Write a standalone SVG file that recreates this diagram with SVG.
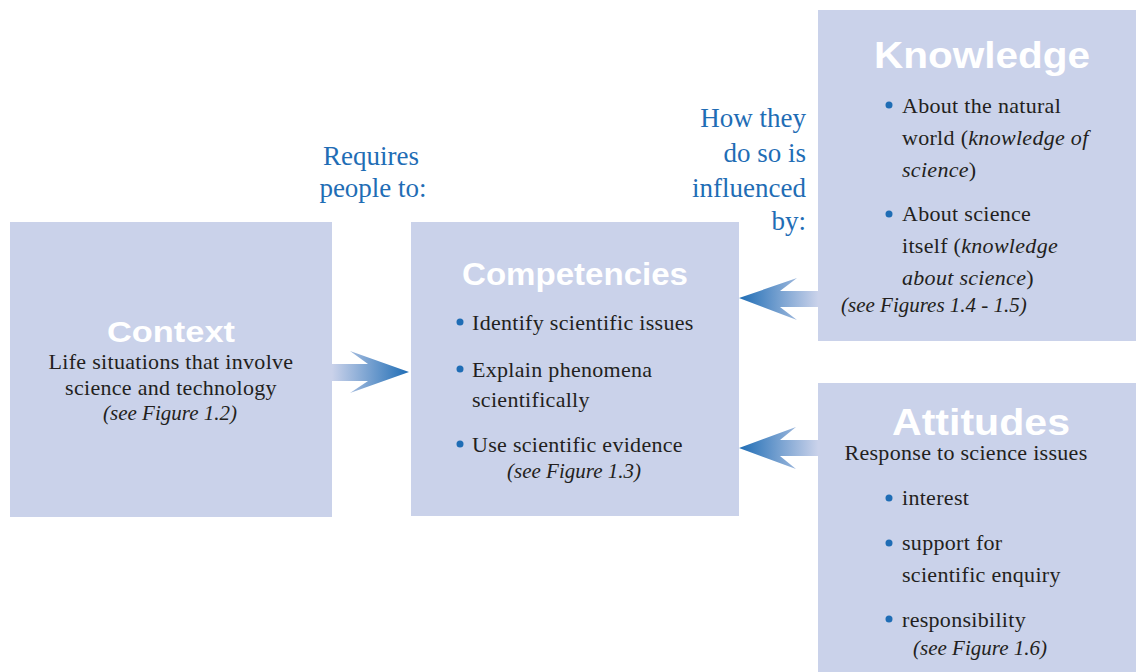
<svg xmlns="http://www.w3.org/2000/svg" width="1136" height="672" viewBox="0 0 1136 672">
<style>
.box{fill:#cad2ea}
.title{font-family:"Liberation Sans",Arial,sans-serif;font-weight:bold;fill:#ffffff}
.body{font-family:"Liberation Serif","Times New Roman",serif;font-size:22px;fill:#231f20;letter-spacing:0.3px}
.it{font-style:italic}
.ref{font-family:"Liberation Serif","Times New Roman",serif;font-size:21px;font-style:italic;fill:#231f20}
.blue{font-family:"Liberation Serif","Times New Roman",serif;font-size:27px;fill:#1f6db5}
.dot{fill:#1f6db5}
.mid{text-anchor:middle}
.end{text-anchor:end}
</style>
<defs>
<linearGradient id="gr" x1="0" y1="0" x2="1" y2="0">
<stop offset="0" stop-color="#cad2ea"/>
<stop offset="1" stop-color="#1f6db5"/>
</linearGradient>
<linearGradient id="gl" x1="1" y1="0" x2="0" y2="0">
<stop offset="0" stop-color="#cad2ea"/>
<stop offset="1" stop-color="#1f6db5"/>
</linearGradient>
</defs>
<rect width="1136" height="672" fill="#ffffff"/>

<g id="connectors">
<polygon fill="url(#gr)" points="332,364 368,364 350,351 409,372 350,393 368,381 332,381"/>
<polygon fill="url(#gl)" points="818,291 780,291 797,278 739,298 797,320 780,307 818,307"/>
<polygon fill="url(#gl)" points="818,440 780,440 796,427 739,448 796,469 780,456 818,456"/>
</g>

<g id="label-requires">
<text class="blue mid" x="371" y="165">Requires</text>
<text class="blue mid" x="373" y="197">people to:</text>
</g>
<g id="label-influenced">
<text class="blue end" x="806" y="127">How they</text>
<text class="blue end" x="806" y="162">do so is</text>
<text class="blue end" x="806" y="197">influenced</text>
<text class="blue end" x="806" y="230">by:</text>
</g>

<g id="context">
<rect class="box" x="10" y="222" width="322" height="295"/>
<text class="title mid" x="171" y="342" font-size="30" textLength="128" lengthAdjust="spacingAndGlyphs">Context</text>
<text class="body mid" x="171" y="369">Life situations that involve</text>
<text class="body mid" x="171" y="395">science and technology</text>
<text class="ref mid" x="170" y="420">(see Figure 1.2)</text>
</g>

<g id="competencies">
<rect class="box" x="411" y="222" width="328" height="294"/>
<text class="title mid" x="575" y="285" font-size="31" textLength="226" lengthAdjust="spacingAndGlyphs">Competencies</text>
<circle class="dot" cx="460" cy="322" r="3.5"/>
<text class="body" x="472" y="330">Identify scientific issues</text>
<circle class="dot" cx="460" cy="369" r="3.5"/>
<text class="body" x="472" y="377">Explain phenomena</text>
<text class="body" x="472" y="407">scientifically</text>
<circle class="dot" cx="460" cy="444" r="3.5"/>
<text class="body" x="472" y="452">Use scientific evidence</text>
<text class="ref mid" x="574" y="478">(see Figure 1.3)</text>
</g>

<g id="knowledge">
<rect class="box" x="818" y="10" width="318" height="331"/>
<text class="title mid" x="982" y="68" font-size="36" textLength="216" lengthAdjust="spacingAndGlyphs">Knowledge</text>
<circle class="dot" cx="889" cy="105" r="3.5"/>
<text class="body" x="902" y="113">About the natural</text>
<text class="body" x="902" y="145">world (<tspan class="it">knowledge of</tspan></text>
<text class="body" x="902" y="177"><tspan class="it">science</tspan>)</text>
<circle class="dot" cx="889" cy="214" r="3.5"/>
<text class="body" x="902" y="221">About science</text>
<text class="body" x="902" y="253">itself (<tspan class="it">knowledge</tspan></text>
<text class="body" x="902" y="285"><tspan class="it">about science</tspan>)</text>
<text class="ref" x="841" y="312">(see Figures 1.4 - 1.5)</text>
</g>

<g id="attitudes">
<rect class="box" x="818" y="383" width="318" height="289"/>
<text class="title mid" x="981" y="435" font-size="36" textLength="178" lengthAdjust="spacingAndGlyphs">Attitudes</text>
<text class="body mid" x="966" y="460">Response to science issues</text>
<circle class="dot" cx="889" cy="498" r="3.5"/>
<text class="body" x="902" y="505">interest</text>
<circle class="dot" cx="889" cy="543" r="3.5"/>
<text class="body" x="902" y="550">support for</text>
<text class="body" x="902" y="582">scientific enquiry</text>
<circle class="dot" cx="889" cy="619" r="3.5"/>
<text class="body" x="902" y="627">responsibility</text>
<text class="ref mid" x="980" y="655">(see Figure 1.6)</text>
</g>
</svg>
